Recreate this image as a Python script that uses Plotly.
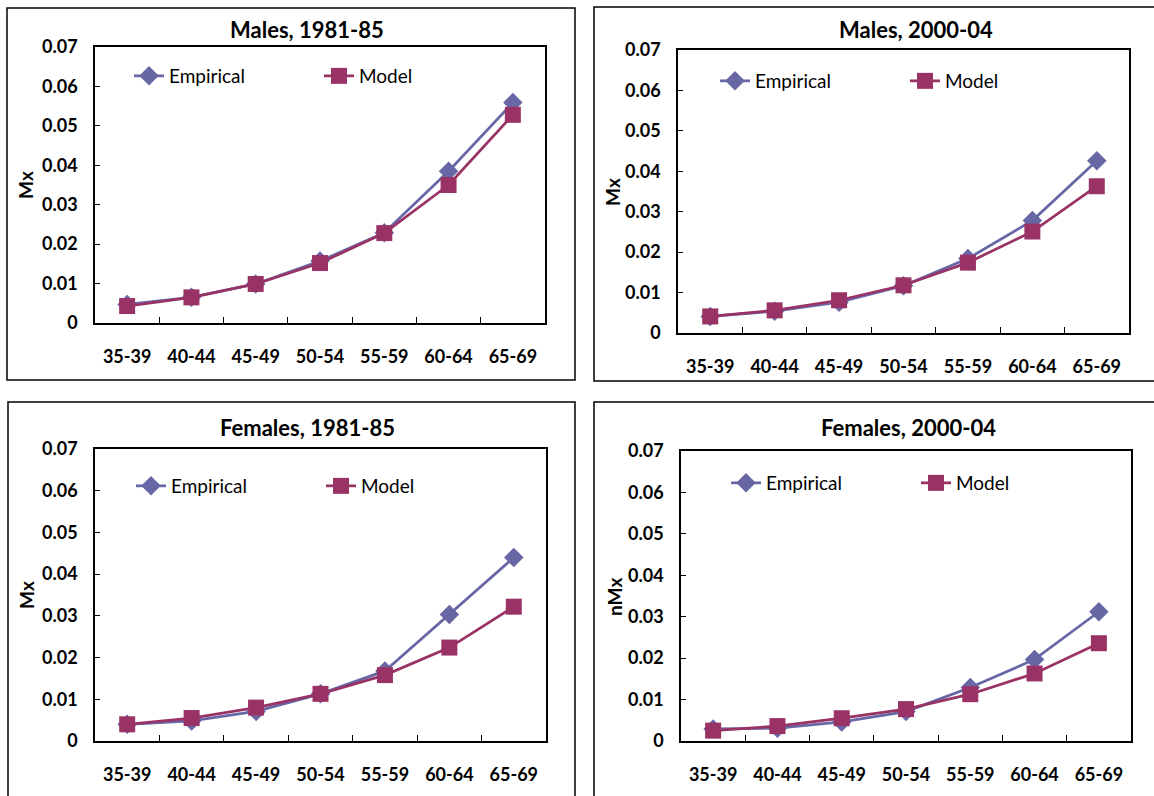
import plotly.graph_objects as go

W, H = 1154, 796

age_groups = ["35-39", "40-44", "45-49", "50-54", "55-59", "60-64", "65-69"]

males_1981_emp = [0.0047, 0.0065, 0.0099, 0.0157, 0.0229, 0.0385, 0.0559]
males_1981_mod = [0.0043, 0.0065, 0.0099, 0.0152, 0.0228, 0.0350, 0.0528]
males_2000_emp = [0.0041, 0.0054, 0.0076, 0.0117, 0.0184, 0.0278, 0.0426]
males_2000_mod = [0.0041, 0.0056, 0.0081, 0.0118, 0.0174, 0.0251, 0.0363]
females_1981_emp = [0.0040, 0.0048, 0.0071, 0.0113, 0.0168, 0.0303, 0.0440]
females_1981_mod = [0.0040, 0.0055, 0.0080, 0.0113, 0.0158, 0.0224, 0.0322]
females_2000_emp = [0.0029, 0.0031, 0.0046, 0.0071, 0.0129, 0.0197, 0.0312]
females_2000_mod = [0.0025, 0.0036, 0.0055, 0.0077, 0.0113, 0.0163, 0.0236]

y_ticks = [0, 0.01, 0.02, 0.03, 0.04, 0.05, 0.06, 0.07]
y_ticktext = ["0", "0.01", "0.02", "0.03", "0.04", "0.05", "0.06", "0.07"]

titles = ["Males, 1981-85", "Males, 2000-04", "Females, 1981-85", "Females, 2000-04"]
ytitles = ["Mx", "Mx", "Mx", "nMx"]
series = [
    (males_1981_emp, males_1981_mod),
    (males_2000_emp, males_2000_mod),
    (females_1981_emp, females_1981_mod),
    (females_2000_emp, females_2000_mod),
]

EMP_COLOR = "#6767A6"
MOD_COLOR = "#993366"
FONT = "Lato"

# pixel geometry of each panel: plot area (l, r, t, b), frame (l, r, t, b),
# title centre, y-title centre, legend anchor
panels = [
    dict(plot=(95, 545, 47, 323), frame=(7, 575, 8, 380), title=(307, 30), ytitle=(26, 185), legend=(129, 76)),
    dict(plot=(678, 1129, 50, 333), frame=(594, 1160, 7, 381), title=(916, 30), ytitle=(613, 192), legend=(715, 81)),
    dict(plot=(95, 546, 449, 741), frame=(8, 575, 402, 805), title=(307, 427), ytitle=(26, 595), legend=(131, 486)),
    dict(plot=(681, 1131, 451, 741), frame=(594, 1160, 402, 805), title=(908, 427), ytitle=(614, 597), legend=(726, 483)),
]

def px(x):
    return x / W

def py(y):
    return 1 - y / H

fig = go.Figure()
shapes = []
annotations = []

for i, p in enumerate(panels):
    n = i + 1
    xa = "x" if n == 1 else f"x{n}"
    ya = "y" if n == 1 else f"y{n}"
    leg = "legend" if n == 1 else f"legend{n}"
    emp, mod = series[i]
    fig.add_trace(go.Scatter(
        x=age_groups, y=emp, name="Empirical", mode="lines+markers",
        line=dict(color=EMP_COLOR, width=2.75),
        marker=dict(symbol="diamond", size=15, color=EMP_COLOR),
        xaxis=xa, yaxis=ya, legend=leg, cliponaxis=False,
    ))
    fig.add_trace(go.Scatter(
        x=age_groups, y=mod, name="Model", mode="lines+markers",
        line=dict(color=MOD_COLOR, width=2.75),
        marker=dict(symbol="square", size=16, color=MOD_COLOR),
        xaxis=xa, yaxis=ya, legend=leg, cliponaxis=False,
    ))
    l, r, t, b = p["plot"]
    xkey = "xaxis" if n == 1 else f"xaxis{n}"
    ykey = "yaxis" if n == 1 else f"yaxis{n}"
    fig.layout[xkey] = dict(
        domain=[px(l), px(r)], anchor=ya, type="category", automargin=False,
        range=[-0.5, 6.5], tickson="boundaries", ticks="inside", ticklen=6,
        tickcolor="black", tickwidth=1.2,
        showline=True, linecolor="black", linewidth=1.6, mirror=True,
        showgrid=False, zeroline=False,
        tickfont=dict(family=FONT, size=18, color="black", weight="bold"),
        ticklabelstandoff=17,
    )
    fig.layout[ykey] = dict(
        domain=[py(b), py(t)], anchor=xa, automargin=False,
        range=[0, 0.07], tickvals=y_ticks, ticktext=y_ticktext,
        ticks="inside", ticklen=5, tickcolor="black", tickwidth=1.2,
        showline=True, linecolor="black", linewidth=1.6, mirror=True,
        showgrid=False, zeroline=False,
        tickfont=dict(family=FONT, size=18, color="black", weight="bold"),
        ticklabelstandoff=12,
    )
    fl, fr, ft, fb = p["frame"]
    shapes.append(dict(type="rect", xref="paper", yref="paper",
                       x0=px(fl), x1=px(fr), y0=py(fb), y1=py(ft),
                       line=dict(color="black", width=1.5), layer="below"))
    tx, ty = p["title"]
    annotations.append(dict(text=titles[i], x=px(tx), y=py(ty), xref="paper", yref="paper",
                            showarrow=False, xanchor="center", yanchor="middle",
                            font=dict(family=FONT, size=22, color="black", weight="bold")))
    yx, yy = p["ytitle"]
    annotations.append(dict(text=ytitles[i], x=px(yx), y=py(yy), xref="paper", yref="paper",
                            showarrow=False, xanchor="center", yanchor="middle", textangle=-90,
                            font=dict(family=FONT, size=19, color="black", weight="bold")))
    lx, ly = p["legend"]
    fig.layout[leg] = dict(
        x=px(lx), y=py(ly), xanchor="left", yanchor="middle", orientation="h",
        bgcolor="rgba(0,0,0,0)", borderwidth=0, entrywidth=145,
        font=dict(family=FONT, size=19, color="black"),
    )

fig.update_layout(
    width=W, height=H, margin=dict(l=0, r=0, t=0, b=0, autoexpand=False),
    paper_bgcolor="white", plot_bgcolor="white",
    shapes=shapes, annotations=annotations, showlegend=True,
)

fig.write_html("out.html")
